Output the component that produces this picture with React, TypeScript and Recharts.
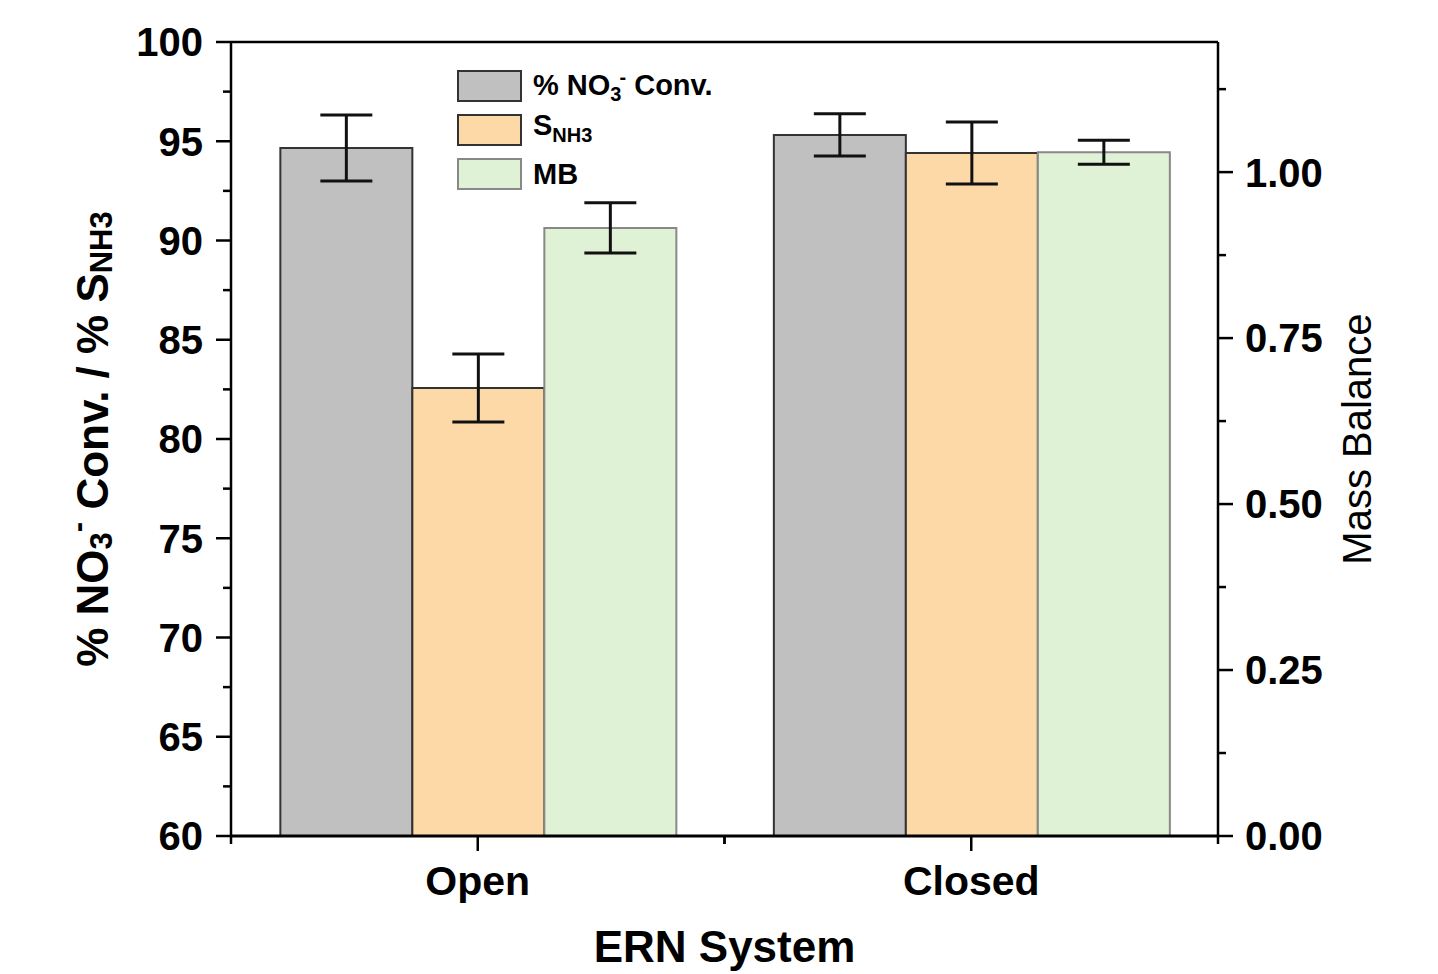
import { BarChart, Bar, XAxis, YAxis, ErrorBar, Legend, ReferenceLine, Label } from 'recharts';

const categories = ['Open', 'Closed'];
const convValues = [94.66, 95.32];
const convErrors = [1.66, 1.06];
const snh3Values = [82.57, 94.41];
const snh3Errors = [1.71, 1.56];
const mbValues = [0.916, 1.03];
const mbErrors = [0.038, 0.018];

const leftTicks = [60, 62.5, 65, 67.5, 70, 72.5, 75, 77.5, 80, 82.5, 85, 87.5, 90, 92.5, 95, 97.5, 100];
const rightTicks = [0, 0.125, 0.25, 0.375, 0.5, 0.625, 0.75, 0.875, 1, 1.125];

const data = categories.map((name, i) => ({
  name,
  conv: convValues[i],
  convErr: convErrors[i],
  snh3: snh3Values[i],
  snh3Err: snh3Errors[i],
  mb: mbValues[i],
  mbErr: mbErrors[i],
}));

const FONT = '"Liberation Sans", Arial, sans-serif';

const LeftTick = ({ x, y, payload }: any) => {
  const major = payload.value % 5 === 0;
  return (
    <g>
      <line x1={x} x2={x - (major ? 15 : 8)} y1={y} y2={y} stroke="#000" strokeWidth={2.5} />
      {major && (
        <text x={x - 28} y={y} dy="0.36em" textAnchor="end" fontFamily={FONT} fontWeight="bold" fontSize={40} fill="#000">
          {payload.value}
        </text>
      )}
    </g>
  );
};

const RightTick = ({ x, y, payload }: any) => {
  const v = payload.value;
  const major = Math.abs(v * 4 - Math.round(v * 4)) < 1e-6;
  return (
    <g>
      <line x1={x} x2={x + (major ? 15 : 8)} y1={y} y2={y} stroke="#000" strokeWidth={2.5} />
      {major && (
        <text x={x + 27} y={y} dy="0.36em" textAnchor="start" fontFamily={FONT} fontWeight="bold" fontSize={40} fill="#000">
          {v.toFixed(2)}
        </text>
      )}
    </g>
  );
};

const BottomTick = ({ x, y, payload }: any) => {
  const off = payload.offset || 0;
  return (
    <g>
      <line x1={x} x2={x} y1={y} y2={y + 15} stroke="#000" strokeWidth={2.5} />
      {off > 0 && (
        <>
          <line x1={x - off} x2={x - off} y1={y} y2={y + 8} stroke="#000" strokeWidth={2.5} />
          <line x1={x + off} x2={x + off} y1={y} y2={y + 8} stroke="#000" strokeWidth={2.5} />
        </>
      )}
      <text x={x} y={y + 59} textAnchor="middle" fontFamily={FONT} fontWeight="bold" fontSize={41} fill="#000">
        {payload.value}
      </text>
    </g>
  );
};

const LeftTitle = ({ viewBox }: any) => {
  const cx = viewBox.x + 92;
  const cy = viewBox.y + viewBox.height / 2;
  return (
    <text
      x={cx}
      y={cy}
      transform={`rotate(-90, ${cx}, ${cy})`}
      textAnchor="middle"
      dominantBaseline="central"
      fontFamily={FONT}
      fontWeight="bold"
      fontSize={44}
      fill="#000"
    >
      <tspan>% NO</tspan>
      <tspan dy={9} fontSize={31}>3</tspan>
      <tspan dy={-24} fontSize={31}>-</tspan>
      <tspan dy={15}> Conv. / % S</tspan>
      <tspan dy={9} fontSize={31}>NH3</tspan>
    </text>
  );
};

const RightTitle = ({ viewBox }: any) => {
  const cx = viewBox.x + 139;
  const cy = viewBox.y + viewBox.height / 2;
  return (
    <text
      x={cx}
      y={cy}
      transform={`rotate(-90, ${cx}, ${cy})`}
      textAnchor="middle"
      dominantBaseline="central"
      fontFamily={FONT}
      fontSize={40}
      fill="#000"
    >
      Mass Balance
    </text>
  );
};

const BottomTitle = ({ viewBox }: any) => (
  <text
    x={viewBox.x + viewBox.width / 2}
    y={viewBox.y + 126}
    textAnchor="middle"
    fontFamily={FONT}
    fontWeight="bold"
    fontSize={44}
    fill="#000"
  >
    ERN System
  </text>
);

const legendItems = [
  { key: 'conv', fill: '#c0c0c0', border: '#333' },
  { key: 'snh3', fill: '#fdd9a8', border: '#333' },
  { key: 'mb', fill: '#e0f2d6', border: '#888' },
];

const LegendContent = () => (
  <div style={{ fontFamily: FONT, fontWeight: 'bold', fontSize: 29, color: '#000' }}>
    {legendItems.map((it) => (
      <div key={it.key} style={{ display: 'flex', alignItems: 'center', height: 32, marginBottom: 12 }}>
        <div
          style={{
            width: 61,
            height: 28,
            background: it.fill,
            border: `2px solid ${it.border}`,
            marginRight: 11,
          }}
        />
        <span style={{ whiteSpace: 'nowrap', lineHeight: '32px' }}>
          {it.key === 'conv' && (
            <>
              % NO<sub style={{ fontSize: 20 }}>3</sub>
              <sup style={{ fontSize: 20, marginLeft: -2 }}>-</sup> Conv.
            </>
          )}
          {it.key === 'snh3' && (
            <>
              S<sub style={{ fontSize: 20 }}>NH3</sub>
            </>
          )}
          {it.key === 'mb' && <>MB</>}
        </span>
      </div>
    ))}
  </div>
);

export default function App() {
  return (
    <div style={{ position: 'absolute', left: 0, top: 0, width: 1438, height: 974, background: '#fff' }}>
      <BarChart
        width={1438}
        height={974}
        data={data}
        margin={{ top: 42, right: 0, left: 0, bottom: 0 }}
        barCategoryGap="10%"
        barGap={0}
      >
        <XAxis
          dataKey="name"
          height={138}
          interval={0}
          tickSize={0}
          tickMargin={0}
          tickLine={false}
          tick={<BottomTick />}
          axisLine={{ stroke: '#000', strokeWidth: 3 }}
        >
          <Label content={<BottomTitle />} />
        </XAxis>
        <YAxis
          yAxisId="left"
          orientation="left"
          width={231}
          domain={[60, 100]}
          ticks={leftTicks}
          interval={0}
          tickSize={0}
          tickMargin={0}
          tickLine={false}
          tick={<LeftTick />}
          axisLine={{ stroke: '#000', strokeWidth: 2.5 }}
          allowDataOverflow
        >
          <Label content={<LeftTitle />} />
        </YAxis>
        <YAxis
          yAxisId="right"
          orientation="right"
          width={220}
          domain={[0, 1.196]}
          ticks={rightTicks}
          interval={0}
          tickSize={0}
          tickMargin={0}
          tickLine={false}
          tick={<RightTick />}
          axisLine={{ stroke: '#000', strokeWidth: 2.5 }}
          allowDataOverflow
        >
          <Label content={<RightTitle />} />
        </YAxis>
        <ReferenceLine yAxisId="left" y={100} stroke="#000" strokeWidth={2.5} ifOverflow="visible" />
        <Legend
          layout="vertical"
          align="center"
          verticalAlign="middle"
          content={<LegendContent />}
          wrapperStyle={{ top: 70, left: 457, width: 'auto' }}
        />
        <Bar yAxisId="left" dataKey="conv" fill="#c0c0c0" stroke="#333" strokeWidth={2} isAnimationActive={false}>
          <ErrorBar dataKey="convErr" width={26} stroke="#111" strokeWidth={3} />
        </Bar>
        <Bar yAxisId="left" dataKey="snh3" fill="#fdd9a8" stroke="#333" strokeWidth={2} isAnimationActive={false}>
          <ErrorBar dataKey="snh3Err" width={26} stroke="#111" strokeWidth={3} />
        </Bar>
        <Bar yAxisId="right" dataKey="mb" fill="#e0f2d6" stroke="#888" strokeWidth={2} isAnimationActive={false}>
          <ErrorBar dataKey="mbErr" width={26} stroke="#111" strokeWidth={3} />
        </Bar>
      </BarChart>
    </div>
  );
}
